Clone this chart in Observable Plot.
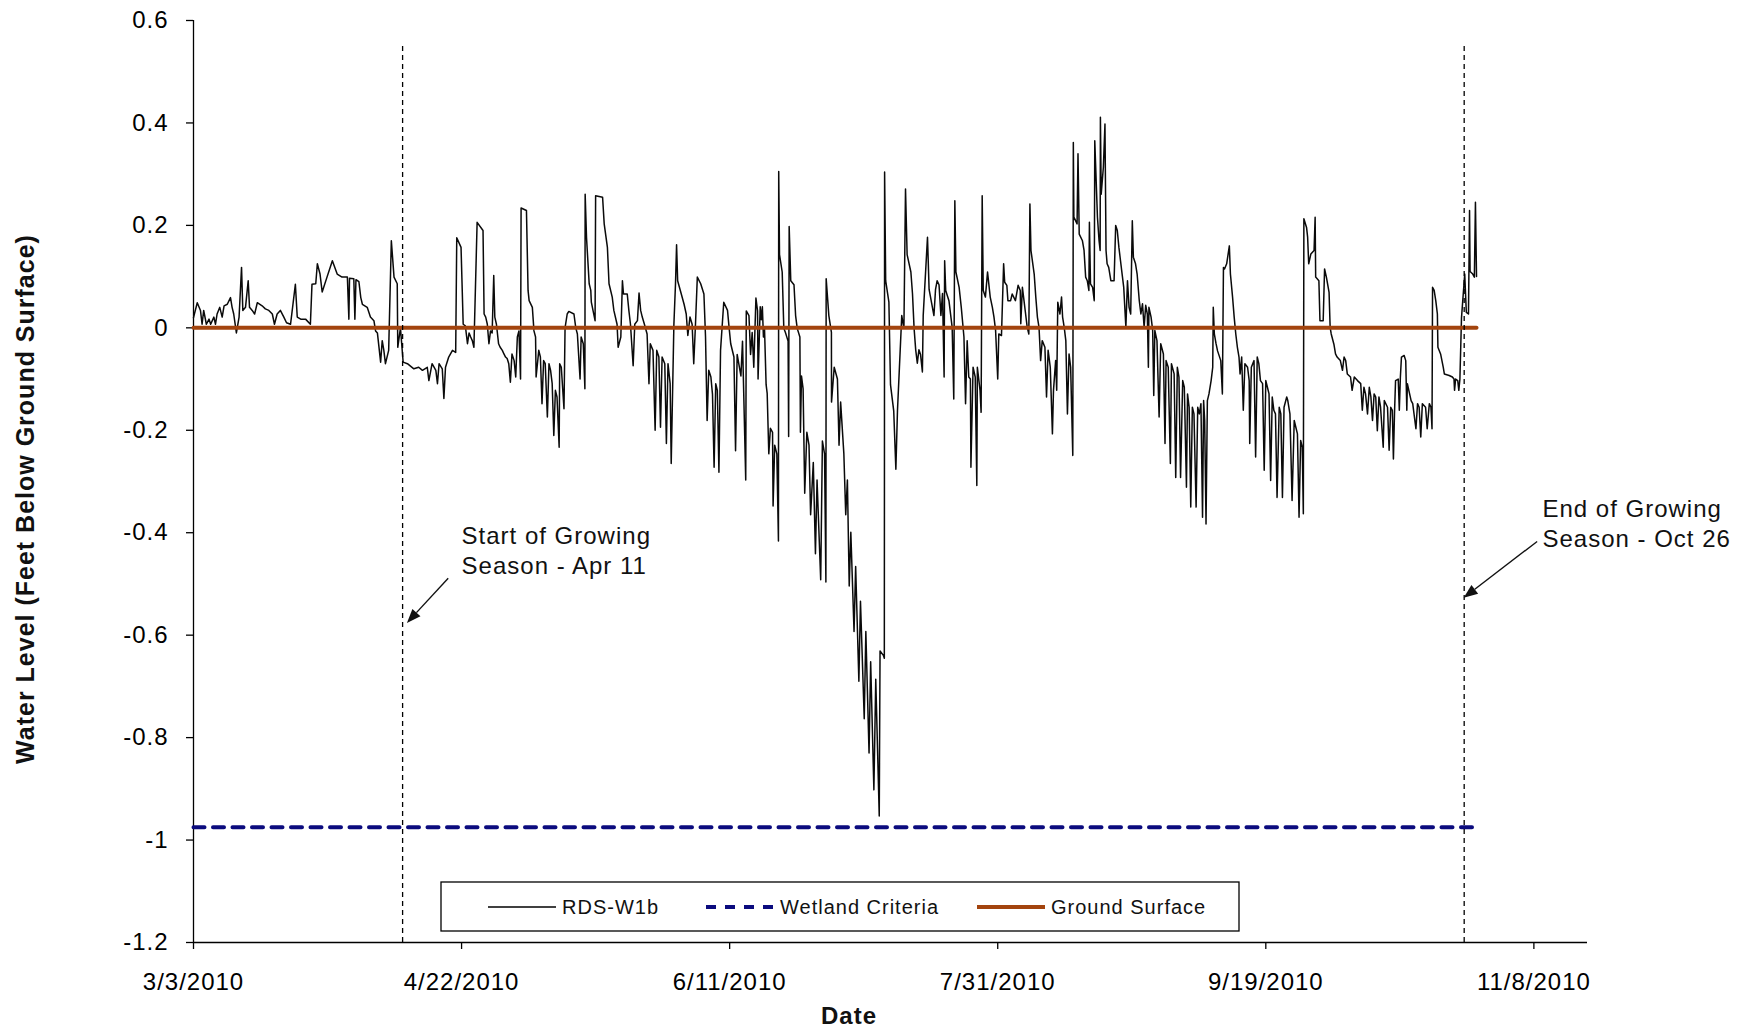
<!DOCTYPE html>
<html>
<head>
<meta charset="utf-8">
<script src="https://cdn.jsdelivr.net/npm/d3@7"></script>
<script src="https://cdn.jsdelivr.net/npm/@observablehq/plot@0.6"></script>
<style>
  html, body { margin: 0; padding: 0; background: #fff; }
  #chart svg text { letter-spacing: 1px; }
</style>
</head>
<body>
<div id="chart"></div>
<script>
// ---------- DATA (day offsets since 3/3/2010, water level in ft) ----------
const levelMarApr = [[0,0.02],[0.7,0.049],[1.3,0.034],[1.6,0.007],[1.9,0.034],[2.4,0.007],[2.9,0.017],[3.2,0.007],[3.8,0.021],[4.1,0.007],[4.4,0.027],[4.9,0.04],[5.35,0.021],[5.7,0.043],[6.3,0.046],[6.9,0.059],[7.2,0.04],[7.5,0.027],[8.0,-0.01],[8.5,0.021],[8.96,0.118],[9.2,0.034],[9.7,0.04],[10.2,0.092],[10.45,0.04],[10.95,0.034],[11.4,0.027],[11.9,0.049],[12.8,0.043],[13.4,0.037],[14.05,0.034],[14.7,0.027],[15.1,0.007],[15.6,0.027],[16.2,0.034],[16.85,0.021],[17.35,0.01],[18.1,0.007],[19.0,0.085],[19.35,0.021],[20.0,0.017],[20.9,0.017],[21.8,0.007],[22.1,0.085],[22.8,0.086],[23.1,0.125],[23.6,0.105],[24.0,0.07],[24.9,0.099],[25.9,0.131],[26.8,0.105],[27.7,0.099],[28.7,0.099],[28.98,0.017],[29.1,0.097],[29.9,0.096],[30.1,0.017],[30.3,0.094],[30.85,0.09],[31.2,0.059],[31.5,0.046],[32.4,0.04],[33.0,0.021],[33.65,0.014],[33.96,-0.006],[34.3,-0.01],[34.9,-0.067],[35.2,-0.025],[35.5,-0.044],[35.8,-0.07],[36.4,-0.044],[36.9,0.17],[37.4,0.099],[38.0,0.086],[38.1,-0.038],[38.6,0.0],[39.1,-0.067],[39.9,-0.07],[41.1,-0.08],[42.0,-0.077],[42.7,-0.083],[43.6,-0.077],[43.9,-0.103],[44.5,-0.07],[45.2,-0.083],[45.5,-0.109],[45.8,-0.07],[46.4,-0.08],[46.7,-0.138],[47.0,-0.077],[47.6,-0.057],[48.3,-0.044],[48.9,-0.048],[49.1,0.176],[49.9,0.157],[50.3,0.007],[50.7,0.004],[51.1,-0.031],[51.4,-0.01],[51.7,-0.018],[52.0,-0.025],[52.3,-0.038],[52.9,0.206],[54.0,0.19],[54.2,0.027],[54.5,0.021],[54.8,0.007],[55.1,-0.031],[55.4,-0.006],[55.7,-0.01],[56.0,0.102],[56.2,0.021],[56.5,0.007],[56.9,-0.031],[57.2,-0.038],[57.6,-0.044],[57.9,-0.051],[58.2,-0.057],[58.5,-0.06],[58.8,-0.07]];
const levelMay = [[59.1,-0.106],[59.4,-0.051],[59.8,-0.064],[60.1,-0.096],[60.4,-0.018],[60.7,-0.006],[61.0,-0.1],[61.1,0.234],[62.1,0.229],[62.4,0.073],[62.6,0.053],[63.2,0.04],[63.5,-0.006],[63.8,-0.018],[63.9,-0.096],[64.4,-0.044],[64.7,-0.057],[65.0,-0.148],[65.3,-0.064],[65.6,-0.07],[66.0,-0.174],[66.3,-0.07],[66.6,-0.083],[66.9,-0.109],[67.2,-0.21],[67.5,-0.122],[67.8,-0.135],[68.2,-0.233],[68.3,-0.07],[68.6,-0.077],[69.1,-0.158],[69.3,0.0],[69.7,0.027],[70.0,0.032],[70.96,0.027],[71.3,0.0],[71.6,-0.012],[72.1,-0.1],[72.3,-0.018],[72.7,-0.031],[73.0,-0.119],[73.05,0.261],[73.3,0.177],[73.8,0.086],[74.1,0.073],[74.2,0.05],[74.9,0.014],[75.0,0.258],[76.3,0.255],[76.6,0.203],[77.2,0.157],[77.5,0.086],[78.1,0.06],[78.4,0.034],[79.0,0.007],[79.2,-0.038],[79.7,-0.018],[80.0,0.092],[80.2,0.066],[80.9,0.066],[81.2,0.034],[81.5,0.007],[82.0,-0.074],[82.3,0.007],[82.8,0.014],[83.1,0.068],[83.4,0.034],[83.7,0.021],[84.1,0.007],[84.6,-0.012],[84.95,-0.109],[85.2,-0.031],[85.7,-0.044],[86.1,-0.2],[86.4,-0.044],[86.8,-0.057],[87.1,-0.194],[87.4,-0.057],[87.9,-0.07],[88.2,-0.226],[88.5,-0.07],[88.9,-0.109],[89.1,-0.265],[89.6,0.007],[89.9,0.086]];
const levelJun = [[90.1,0.162],[90.3,0.092],[90.8,0.073],[91.5,0.046],[91.9,0.027],[92.2,-0.015],[92.6,0.021],[93.0,0.007],[93.3,-0.07],[93.6,0.0],[93.97,0.099],[94.6,0.086],[95.2,0.066],[95.5,-0.018],[95.8,-0.181],[96.1,-0.083],[96.5,-0.096],[96.8,-0.13],[97.1,-0.272],[97.4,-0.109],[97.7,-0.122],[98.0,-0.282],[98.3,-0.044],[98.9,0.05],[99.6,0.034],[99.9,0.0],[100.2,-0.031],[100.8,-0.057],[101.1,-0.24],[101.4,-0.052],[102.1,-0.094],[102.4,-0.026],[103.0,-0.297],[103.1,0.033],[103.6,0.024],[103.9,-0.052],[104.2,-0.009],[104.5,-0.077],[104.9,0.058],[105.2,0.033],[105.3,-0.1],[105.7,0.041],[105.9,0.016],[106.1,0.041],[106.3,-0.018],[106.5,-0.001],[106.8,-0.111],[107.0,-0.128],[107.3,-0.246],[107.6,-0.196],[108.0,-0.204],[108.1,-0.348],[108.4,-0.229],[108.8,-0.246],[109.1,-0.416],[109.15,0.305],[109.3,0.143],[109.8,0.109],[110.1,-0.001],[110.4,-0.009],[110.9,-0.026],[111.0,-0.212],[111.1,0.198],[111.4,0.092],[112.0,0.084],[112.3,0.024],[112.6,-0.001],[113.1,-0.018],[113.2,-0.204],[113.4,-0.094],[113.7,-0.119],[114.0,-0.323],[114.4,-0.204],[114.8,-0.229],[115.1,-0.365],[115.6,-0.263],[116.0,-0.441],[116.3,-0.297],[116.98,-0.492],[117.3,-0.221],[117.7,-0.246],[117.95,-0.496],[118.0,0.096],[118.5,0.024],[118.98,-0.009],[119.0,-0.145],[119.5,-0.077]];
const levelJul = [[120.1,-0.1],[120.4,-0.229],[120.7,-0.145],[121.3,-0.246],[121.65,-0.365],[121.96,-0.297],[122.3,-0.504],[122.6,-0.399],[123.2,-0.593],[123.5,-0.466],[124.1,-0.69],[124.4,-0.534],[125.1,-0.763],[125.4,-0.593],[126.0,-0.83],[126.3,-0.652],[126.9,-0.902],[127.25,-0.686],[127.9,-0.953],[128.05,-0.631],[128.7,-0.64],[128.85,-0.645],[128.9,0.304],[129.1,0.092],[129.7,0.05],[130.0,-0.111],[130.6,-0.162],[131.0,-0.276],[131.3,-0.162],[132.1,0.024],[132.5,-0.001],[132.8,0.271],[133.1,0.143],[133.8,0.109],[134.1,0.067],[134.4,-0.001],[134.7,-0.043],[135.0,-0.069],[135.3,-0.043],[135.6,-0.052],[135.95,-0.086],[136.1,0.024],[136.9,0.177],[137.2,0.075],[137.5,0.058],[138.1,0.024],[138.4,0.075],[138.7,0.092],[139.05,0.084],[139.4,0.024],[139.7,0.067],[140.0,-0.096],[140.1,0.131],[140.3,0.073],[140.9,0.053],[141.2,0.027],[141.5,0.001],[141.8,-0.139],[142.0,0.248],[142.2,0.109],[142.8,0.079],[143.2,0.04],[143.7,-0.018],[144.0,-0.148],[144.3,-0.025],[144.6,-0.096],[144.9,-0.1],[145.0,-0.272],[145.4,-0.077],[145.8,-0.096],[146.1,-0.308],[146.2,-0.077],[146.7,-0.122],[146.9,-0.165],[147.1,0.258],[147.3,0.073],[147.7,0.06],[148.1,0.109],[148.6,0.06],[149.0,0.04],[149.3,0.021],[149.6,-0.005],[150.0,-0.1],[150.2,-0.012],[150.7,-0.015]];
const levelAug = [[151.1,0.125],[151.3,0.089],[151.7,0.083],[151.9,0.053],[152.4,0.053],[152.7,0.066],[153.3,0.053],[153.8,0.083],[154.2,0.073],[154.3,0.008],[154.6,0.079],[154.9,0.053],[155.2,0.027],[155.5,0.001],[155.8,-0.012],[156.0,0.242],[156.2,0.151],[156.8,0.105],[157.1,0.06],[157.4,0.021],[157.7,0.001],[158.0,-0.064],[158.3,-0.025],[158.8,-0.038],[159.1,-0.135],[159.4,-0.044],[159.8,-0.077],[160.2,-0.207],[160.4,-0.122],[160.8,-0.064],[161.0,-0.122],[161.2,0.05],[161.6,0.027],[161.9,0.06],[162.1,0.021],[162.4,0.001],[162.7,-0.025],[163.0,-0.168],[163.3,-0.051],[163.6,-0.077],[164.0,-0.249],[164.1,0.362],[164.2,0.216],[164.8,0.203],[164.97,0.34],[165.2,0.183],[165.8,0.17],[166.1,0.151],[166.4,0.099],[166.7,0.092],[167.0,0.073],[167.1,0.206],[167.3,0.086],[167.7,0.079],[168.0,0.053],[168.1,0.365],[168.6,0.216],[168.9,0.17],[169.1,0.151],[169.15,0.411],[169.3,0.261],[169.7,0.313],[170.0,0.398],[170.2,0.151],[170.4,0.125],[170.7,0.118],[171.1,0.092],[171.7,0.092],[172.0,0.2],[172.3,0.19],[172.6,0.157],[172.9,0.131],[173.2,0.105],[173.5,0.079],[173.9,0.001],[174.2,0.092],[174.5,0.04],[174.8,0.027],[175.1,0.209],[175.3,0.138],[175.7,0.125],[176.0,0.105],[176.4,0.053],[176.7,0.027],[177.0,0.047],[177.3,0.001],[177.6,0.044],[177.9,0.027],[178.1,-0.077],[178.2,0.04],[178.6,0.021],[178.9,-0.005],[179.1,-0.132],[179.3,-0.005],[179.7,-0.025],[180.1,-0.174],[180.4,-0.031],[180.9,-0.051],[181.2,-0.226],[181.4,-0.064],[181.8,-0.077]];
const levelSep = [[182.2,-0.265],[182.4,-0.07],[182.9,-0.09],[183.2,-0.292],[183.5,-0.077],[183.8,-0.096],[184.1,-0.292],[184.5,-0.103],[184.8,-0.116],[185.2,-0.311],[185.4,-0.129],[185.7,-0.155],[186.0,-0.35],[186.3,-0.155],[186.6,-0.168],[187.0,-0.35],[187.3,-0.155],[187.6,-0.168],[187.9,-0.148],[188.2,-0.37],[188.4,-0.142],[188.6,-0.181],[188.85,-0.383],[189.1,-0.142],[189.4,-0.129],[189.8,-0.103],[190.1,-0.077],[190.2,0.04],[190.4,-0.012],[190.7,-0.03],[191.0,-0.045],[191.6,-0.064],[191.9,-0.129],[192.1,0.118],[192.3,0.115],[192.7,0.125],[193.2,0.16],[193.4,0.105],[193.8,0.06],[194.1,0.021],[194.4,-0.012],[194.7,-0.038],[195.0,-0.057],[195.2,-0.09],[195.5,-0.057],[195.8,-0.161],[196.1,-0.07],[196.6,-0.077],[196.9,-0.103],[197.0,-0.226],[197.3,-0.077],[197.8,-0.064],[198.1,-0.252],[198.4,-0.057],[198.7,-0.07],[199.0,-0.103],[199.4,-0.109],[199.7,-0.278],[200.0,-0.103],[200.3,-0.116],[200.6,-0.129],[200.9,-0.298],[201.2,-0.135],[201.5,-0.161],[201.8,-0.168],[202.1,-0.331],[202.5,-0.155],[202.8,-0.168],[203.1,-0.331],[203.4,-0.155],[203.9,-0.135],[204.1,-0.142],[204.5,-0.168],[204.9,-0.337],[205.3,-0.181],[205.6,-0.194],[205.9,-0.207],[206.2,-0.37],[206.5,-0.22],[206.8,-0.233],[207.0,-0.363],[207.1,0.213],[207.6,0.196],[207.8,0.177],[208.0,0.125],[208.4,0.144],[209.0,0.151],[209.2,0.216],[209.3,0.099],[209.9,0.092],[210.1,0.014],[210.7,0.014],[210.96,0.115],[211.3,0.099],[211.8,0.069]];
const levelOct = [[212.0,0.001],[212.2,-0.012],[212.7,-0.032],[213.0,-0.051],[213.3,-0.057],[213.9,-0.064],[214.3,-0.083],[214.6,-0.057],[214.9,-0.064],[215.2,-0.09],[215.8,-0.096],[216.1,-0.122],[216.5,-0.096],[217.1,-0.103],[217.7,-0.109],[218.0,-0.161],[218.3,-0.116],[218.6,-0.129],[218.97,-0.168],[219.3,-0.116],[219.6,-0.135],[219.9,-0.181],[220.2,-0.129],[220.5,-0.135],[220.8,-0.201],[221.1,-0.135],[221.4,-0.155],[221.9,-0.233],[222.1,-0.142],[222.7,-0.155],[223.0,-0.239],[223.3,-0.155],[223.6,-0.161],[223.8,-0.256],[224.0,-0.168],[224.2,-0.103],[224.7,-0.1],[224.9,-0.161],[225.1,-0.096],[225.3,-0.057],[225.8,-0.054],[226.1,-0.064],[226.3,-0.161],[226.4,-0.109],[227.1,-0.142],[227.4,-0.148],[228.0,-0.197],[228.3,-0.148],[228.6,-0.155],[228.9,-0.213],[229.2,-0.148],[229.8,-0.155],[230.1,-0.197],[230.5,-0.148],[230.8,-0.155],[231.0,-0.197],[231.1,0.079],[231.4,0.073],[231.7,0.053],[232.0,0.027],[232.1,-0.038],[232.6,-0.051],[233.1,-0.077],[233.3,-0.09],[234.2,-0.093],[234.8,-0.096],[235.1,-0.1],[235.2,-0.122],[235.4,-0.1],[235.8,-0.103],[236.0,-0.122],[236.2,-0.1],[236.5,0.02],[237.1,0.105],[237.4,0.03],[237.8,0.027],[238.0,0.229],[238.1,0.11],[238.6,0.105],[238.9,0.099],[239.1,0.245],[239.3,0.1]];

const seriesSpan = [0, 239.3];          // days covered by the record
const wetlandLevel = -0.975;            // Wetland Criteria
const groundLevel = 0;                  // Ground Surface
const seasonDays = [39, 237];           // Apr 11, Oct 26
const seasonLineTop = 0.55;
const xDomainDays = [0, 260];
const xTickDays = [0, 50, 100, 150, 200, 250];
const yTicks = [-1.2, -1, -0.8, -0.6, -0.4, -0.2, 0, 0.2, 0.4, 0.6];
const notes = [
  {day: 50.0, level: -0.432, text: "Start of Growing\nSeason - Apr 11"},
  {day: 251.6, level: -0.379, text: "End of Growing\nSeason - Oct 26"}
];
const noteArrows = [
  {d1: 47.6, v1: -0.49, d2: 39.9, v2: -0.577},
  {d1: 250.7, v1: -0.418, d2: 237.0, v2: -0.528}
];
const legendItems = [
  {label: "RDS-W1b", color: "#000000", width: 1.4, dash: null},
  {label: "Wetland Criteria", color: "#0B0B7E", width: 4, dash: "10,9"},
  {label: "Ground Surface", color: "#A3440E", width: 4, dash: null}
];

// ---------- BUILD ----------
const t0 = Date.UTC(2010, 2, 3);
const toDate = d => new Date(t0 + d * 864e5);
const series = [levelMarApr, levelMay, levelJun, levelJul, levelAug, levelSep, levelOct]
  .flat().map(([d, v]) => ({date: toDate(d), level: v}));
const wetland = seriesSpan.map(d => ({date: toDate(d), level: wetlandLevel}));
const ground = seriesSpan.map(d => ({date: toDate(d), level: groundLevel}));
const seasonRules = seasonDays.map(d => ({date: toDate(d)}));
const noteData = notes.map(n => ({...n, date: toDate(n.day)}));
const fmtDate = d => `${d.getUTCMonth() + 1}/${d.getUTCDate()}/${d.getUTCFullYear()}`;
const fmtY = v => (Math.abs(v) < 1e-9 ? "0" : String(+v.toFixed(1)));

const plot = Plot.plot({
  width: 1758,
  height: 1030,
  marginTop: 20,
  marginBottom: 88,
  marginLeft: 193,
  marginRight: 171,
  style: {fontFamily: "'Liberation Sans', Arial, sans-serif", fontSize: "24px", color: "#000", background: "#fff", overflow: "visible"},
  x: {type: "utc", domain: xDomainDays.map(toDate)},
  y: {domain: [-1.2, 0.6]},
  marks: [
    Plot.axisX({ticks: xTickDays.map(toDate), tickFormat: fmtDate, tickSize: 7, tickPadding: 23, label: null, fontSize: 24, strokeWidth: 1.3}),
    Plot.axisY({ticks: yTicks, tickFormat: fmtY, tickSize: 7, tickPadding: 18, label: null, fontSize: 24, strokeWidth: 1.3}),
    Plot.ruleY([-1.2], {stroke: "#000", strokeWidth: 1.3}),
    Plot.ruleX([toDate(xDomainDays[0])], {stroke: "#000", strokeWidth: 1.3}),
    Plot.line(series, {x: "date", y: "level", stroke: "#0a0a0a", strokeWidth: 1.5}),
    Plot.line(wetland, {x: "date", y: "level", stroke: legendItems[1].color, strokeWidth: 4, strokeDasharray: "11,8.5", strokeLinecap: "round"}),
    Plot.line(ground, {x: "date", y: "level", stroke: legendItems[2].color, strokeWidth: 4}),
    Plot.ruleX(seasonRules, {x: "date", y1: -1.2, y2: seasonLineTop, stroke: "#000", strokeWidth: 1.3, strokeDasharray: "5,4"}),
    Plot.text(noteData, {x: "date", y: "level", text: "text", textAnchor: "start", lineAnchor: "middle", lineHeight: 1.26, fontSize: 24, fill: "#111"})
  ]
});
document.getElementById("chart").appendChild(plot);

// ---------- extra annotation: arrows, titles, legend ----------
const sx = plot.scale("x"), sy = plot.scale("y");
const svg = d3.select(plot);
const g = svg.append("g");
noteArrows.forEach(a => {
  const x1 = sx.apply(toDate(a.d1)), y1 = sy.apply(a.v1);
  const x2 = sx.apply(toDate(a.d2)), y2 = sy.apply(a.v2);
  const ang = Math.atan2(y2 - y1, x2 - x1);
  const L = 14, W = 5.5;
  const bx = x2 - L * Math.cos(ang), by = y2 - L * Math.sin(ang);
  g.append("line").attr("x1", x1).attr("y1", y1).attr("x2", bx).attr("y2", by)
    .attr("stroke", "#111").attr("stroke-width", 1.4);
  const px = -Math.sin(ang), py = Math.cos(ang);
  g.append("path")
    .attr("d", `M${x2},${y2}L${bx + W * px},${by + W * py}L${bx - W * px},${by - W * py}Z`)
    .attr("fill", "#111");
});

// axis titles
svg.append("text").attr("transform", "translate(25,499) rotate(-90)")
  .attr("text-anchor", "middle").attr("dominant-baseline", "central")
  .attr("font-weight", "bold").attr("font-size", 25).attr("fill", "#111")
  .text("Water Level (Feet Below Ground Surface)");
svg.append("text").attr("x", 849).attr("y", 1015)
  .attr("text-anchor", "middle").attr("dominant-baseline", "central")
  .attr("font-weight", "bold").attr("font-size", 24).attr("fill", "#111")
  .text("Date");

// legend
const lg = svg.append("g");
lg.append("rect").attr("x", 441).attr("y", 882).attr("width", 798).attr("height", 49)
  .attr("fill", "#fff").attr("stroke", "#000").attr("stroke-width", 1.3);
const legendX = [488, 706, 977];
legendItems.forEach((it, i) => {
  const x0 = legendX[i];
  const ln = lg.append("line").attr("x1", x0).attr("x2", x0 + 68).attr("y1", 907).attr("y2", 907)
    .attr("stroke", it.color).attr("stroke-width", it.width);
  if (it.dash) ln.attr("stroke-dasharray", it.dash);
  lg.append("text").attr("x", x0 + 74).attr("y", 907).attr("text-anchor", "start")
    .attr("dominant-baseline", "central")
    .attr("font-size", 20).attr("fill", "#111").text(it.label);
});
</script>
</body>
</html>
